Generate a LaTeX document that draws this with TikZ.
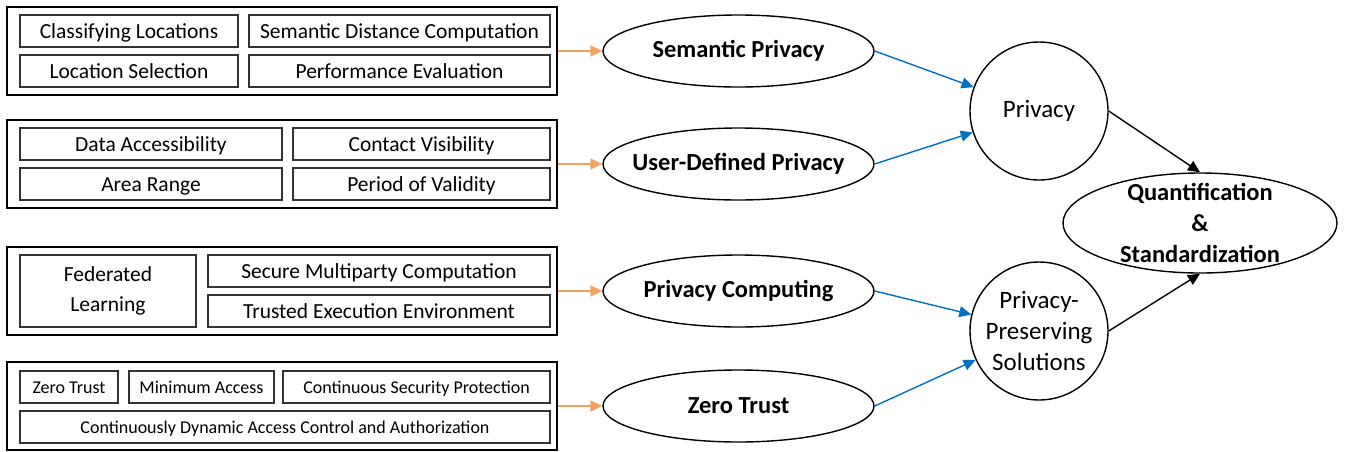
\documentclass[tikz,border=0pt]{standalone}
\usepackage{fontspec}
\setmainfont{Carlito}
\usetikzlibrary{shapes.geometric,arrows.meta}
\definecolor{feedorange}{RGB}{244,162,97}
\definecolor{linkblue}{RGB}{0,112,192}
\begin{document}
\begin{tikzpicture}[x=1pt,y=-1pt,
  grp/.style={draw, line width=1.4pt, minimum width=550, minimum height=88, inner sep=0},
  cell/.style={draw=black!80, line width=1.1pt, minimum height=32, inner sep=0, text height=17.5, text depth=3, font=\fontsize{21.5}{26}\selectfont},
  small/.style={cell, text height=14.5, text depth=2.5, font=\fontsize{18}{22}\selectfont},
  oval/.style={ellipse, draw, line width=1.4pt, minimum width=271, minimum height=72, inner sep=-30pt, font=\bfseries\fontsize{24.5}{30}\selectfont},
  hub/.style={circle, draw, line width=1.4pt, minimum size=138, inner sep=0, align=center, font=\fontsize{25}{31}\selectfont},
  feed/.style={-{Triangle[length=12pt,width=11pt]}, line width=1.8pt, feedorange},
  link/.style={-{Triangle[length=12pt,width=11pt]}, line width=1.4pt, linkblue},
  merge/.style={-{Triangle[length=12pt,width=11pt]}, line width=1.4pt}]
\useasboundingbox (0,0) rectangle (1346,451);
% semantic privacy group
\node[grp] (g1) at (282,51) {};
\node[cell, minimum width=218] (cl) at (129,31) {Classifying Locations};
\node[cell, minimum width=301] (sdc) at (399.5,31) {Semantic Distance Computation};
\node[cell, minimum width=218] (ls) at (129,71) {Location Selection};
\node[cell, minimum width=301] (pe) at (399.5,71) {Performance Evaluation};
% user-defined privacy group
\node[grp] (g2) at (282,164) {};
\node[cell, minimum width=262] (da) at (151,144) {Data Accessibility};
\node[cell, minimum width=257] (cv) at (421.5,144) {Contact Visibility};
\node[cell, minimum width=262] (ar) at (151,184) {Area Range};
\node[cell, minimum width=257] (pv) at (421.5,184) {Period of Validity};
% privacy computing group
\node[grp] (g3) at (282,291) {};
\node[cell, minimum width=176, minimum height=72, text height=, text depth=, align=center, font=\fontsize{21.5}{30}\selectfont] (fl) at (108,291) {Federated\\Learning};
\node[cell, minimum width=342] (smc) at (379,271) {Secure Multiparty Computation};
\node[cell, minimum width=342] (tee) at (379,311) {Trusted Execution Environment};
% zero trust group
\node[grp] (g4) at (282,406) {};
\node[small, minimum width=98] (zt) at (69,387) {Zero Trust};
\node[small, minimum width=145] (ma) at (201.5,387) {Minimum Access};
\node[small, minimum width=267] (csp) at (416.5,387) {Continuous Security Protection};
\node[small, minimum width=530] (cdac) at (285,427) {Continuously Dynamic Access Control and Authorization};
% ovals
\node[oval] (sem) at (738.5,51) {Semantic Privacy};
\node[oval] (udp) at (738.5,164) {User-Defined Privacy};
\node[oval] (pc) at (738.5,291) {Privacy Computing};
\node[oval] (zto) at (738.5,406) {Zero Trust};
\node[hub] (priv) at (1039,111) {Privacy};
\node[hub] (pps) at (1039,331) {Privacy-\\Preserving\\Solutions};
\node[ellipse, draw, line width=1.4pt, minimum width=274, minimum height=100, inner sep=-20pt, align=center, font=\bfseries\fontsize{24.5}{31}\selectfont] (qs) at (1200,223) {Quantification\\\&\\Standardization};
% arrows
\draw[feed] (g1) -- (sem);
\draw[feed] (g2) -- (udp);
\draw[feed] (g3) -- (pc);
\draw[feed] (g4) -- (zto);
\draw[link] (sem.east) -- (priv);
\draw[link] (udp.east) -- (priv);
\draw[link] (pc.east) -- (pps);
\draw[link] (zto.east) -- (pps);
\draw[merge] (priv.east) -- (qs.north);
\draw[merge] (pps.east) -- (qs.south);
\end{tikzpicture}
\end{document}
